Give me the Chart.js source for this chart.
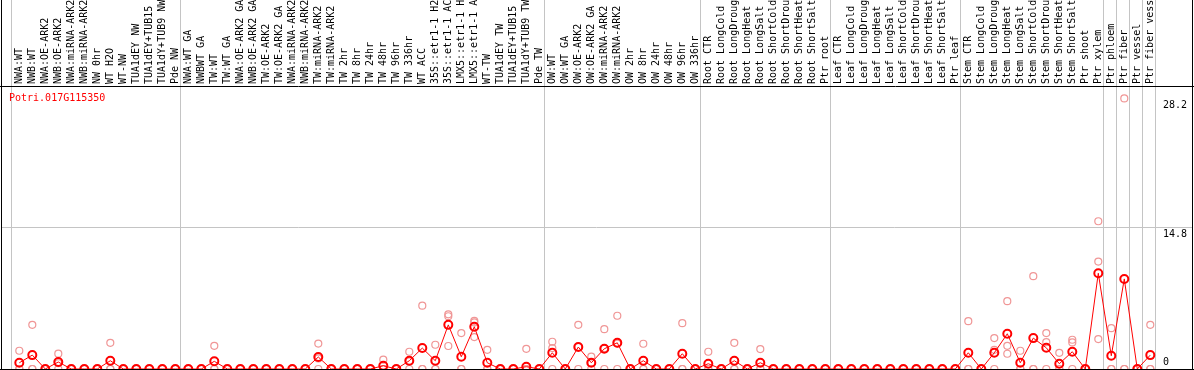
<!DOCTYPE html>
<html><head><meta charset="utf-8">
<script src="https://cdn.jsdelivr.net/npm/chart.js@4.4.1/dist/chart.umd.min.js"></script>
<style>html,body{margin:0;padding:0;background:#fff;overflow:hidden}#wrap{width:1194px;height:370px;position:relative}canvas{display:block}</style>
</head><body><div id="wrap"><canvas id="c" width="1194" height="370"></canvas></div>
<script>
const title = 'Potri.017G115350';
const categories = [
  'NWA:WT','NWB:WT','NWA:OE-ARK2','NWB:OE-ARK2','NWA:miRNA-ARK2','NWB:miRNA-ARK2','NW 0hr','WT H2O','WT-NW','TUA1dEY NW','TUA1dEY+TUB15','TUA1dY+TUB9 NW','Pde NW',
  'NWA:WT GA','NWBWT GA','TW:WT','TW:WT GA','NWA:OE-ARK2 GA','NWB:OE-ARK2 GA','TW:OE-ARK2','TW:OE-ARK2 GA','NWA:miRNA-ARK2','NWB:miRNA-ARK2','TW:miRNA-ARK2','TW:miRNA-ARK2','TW 2hr','TW 8hr','TW 24hr','TW 48hr','TW 96hr','TW 336hr','WT ACC','35S::etr1-1 H2','35S::etr1-1 AC','LMX5::etr1-1 H','LMX5::etr1-1 A','WT-TW','TUA1dEY TW','TUA1dEY+TUB15','TUA1dY+TUB9 TW','Pde TW',
  'OW:WT','OW:WT GA','OW:OE-ARK2','OW:OE-ARK2 GA','OW:miRNA-ARK2','OW:miRNA-ARK2','OW 2hr','OW 8hr','OW 24hr','OW 48hr','OW 96hr','OW 336hr',
  'Root CTR','Root LongCold','Root LongDroug','Root LongHeat','Root LongSalt','Root ShortCold','Root ShortDrou','Root ShortHeat','Root ShortSalt','Ptr root',
  'Leaf CTR','Leaf LongCold','Leaf LongDroug','Leaf LongHeat','Leaf LongSalt','Leaf ShortCold','Leaf ShortDrou','Leaf ShortHeat','Leaf ShortSalt','Ptr leaf',
  'Stem CTR','Stem LongCold','Stem LongDroug','Stem LongHeat','Stem LongSalt','Stem ShortCold','Stem ShortDrou','Stem ShortHeat','Stem ShortSalt','Ptr shoot','Ptr xylem',
  'Ptr phloem','Ptr fiber','Ptr vessel','Ptr fiber vess'
];
const groupSizes = [13,28,12,10,10,11,1,1,1,1];
const means = [
  0.65,1.45,0,0.73,0,0,0,0.86,0,0,0,0,0,
  0,0,0.8,0,0,0,0,0,0,0,1.25,0,0,0,0,0.34,0,0.86,2.18,0.86,4.6,1.28,4.4,0.65,0,0,0.24,0,
  1.69,0,2.29,0.65,2.11,2.73,0,0.86,0,0,1.59,0,
  0.55,0,0.86,0,0.65,0,0,0,0,0,
  0,0,0,0,0,0,0,0,0,0,
  1.69,0,1.69,3.67,0.65,3.22,2.21,0.55,1.8,0,9.98,
  1.38,9.39,0,1.45
];
const rep1 = [
  1.9,4.6,0,1.6,0,0,0,2.73,0,0,0,0,0,
  0,0,2.42,0,0,0,0,0,0,0,2.65,0,0,0,0,0.97,0,1.8,6.6,2.53,5.7,3.74,5.02,2.0,0,0,2.1,0,
  2.84,0,4.6,1.3,4.15,5.55,0,2.63,0,0,4.78,0,
  1.8,0,2.73,0,2.08,0,0,0,0,0,
  0,0,0,0,0,0,0,0,0,0,
  4.99,0,3.22,7.07,1.9,9.68,3.74,1.69,3.05,0,15.4,
  4.26,28.2,0,4.6
];
const rep2 = [
  0,0,0,0.6,0,0,0,0,0,0,0,0,0,
  0,0,0,0,0,0,0,0,0,0,1.1,0,0,0,0,0,0,0.78,0,0,5.5,0,4.85,0,0,0,0,0,
  2.18,0,2.3,0.65,2.15,2.65,0,0,0,0,0,0,
  0,0,0,0,0,0,0,0,0,0,
  0,0,0,0,0,0,0,0,0,0,
  0,0,2.0,2.42,0,0,2.8,0,2.77,0,11.2,
  0,0,0,0
];
const rep3 = [
  0,0,0,0,0,0,0,0,0,0,0,0,0,
  0,0,0,0,0,0,0,0,0,0,0,0,0,0,0,0,0,0,0,0,2.4,0,3.33,0,0,0,0,0,
  0,0,0,0,0,0,0,0,0,0,0,0,
  0,0,0,0,0,0,0,0,0,0,
  0,0,0,0,0,0,0,0,0,0,
  0,0,0,1.59,0,0,0,0,0,0,3.12,
  0,0,0,0
];
const yTicks = [0, 14.8, 28.2];

const FONT = '10px "DejaVu Sans Mono", "Liberation Mono", monospace';
const GRAY = '#c4c4c4';
const pts = arr => arr.map((v, i) => ({x: i, y: v}));

const deco = {
  id: 'deco',
  beforeDatasetsDraw(chart) {
    const {ctx, chartArea: a, scales: {x}} = chart;
    ctx.save();
    ctx.strokeStyle = GRAY; ctx.lineWidth = 1;
    const bounds = [x.getPixelForValue(0) - 8.6];
    let idx = 0;
    for (const g of groupSizes) { idx += g; bounds.push(x.getPixelForValue(idx - 1) + 5); }
    for (const px of bounds) {
      const xx = Math.round(px) + 0.5;
      ctx.beginPath(); ctx.moveTo(xx, 0); ctx.lineTo(xx, a.bottom); ctx.stroke();
    }
    ctx.restore();
  },
  afterDatasetsDraw(chart) {
    const {ctx, chartArea: a, scales: {x, y}} = chart;
    ctx.save();
    // frame
    ctx.strokeStyle = '#000'; ctx.lineWidth = 1;
    ctx.beginPath();
    ctx.moveTo(0, a.top + 0.5); ctx.lineTo(chart.width, a.top + 0.5);
    ctx.moveTo(0, a.bottom + 0.5); ctx.lineTo(chart.width, a.bottom + 0.5);
    ctx.moveTo(a.left + 0.5, 0); ctx.lineTo(a.left + 0.5, a.bottom);
    ctx.moveTo(a.right + 0.5, 0); ctx.lineTo(a.right + 0.5, a.bottom);
    ctx.stroke();
    // category labels
    ctx.font = FONT; ctx.fillStyle = '#000';
    ctx.textAlign = 'left'; ctx.textBaseline = 'middle';
    categories.forEach((lab, i) => {
      ctx.save();
      ctx.translate(Math.round(x.getPixelForValue(i)) + 0.5, a.top - 2);
      ctx.rotate(-Math.PI / 2);
      ctx.fillText(lab, 0, 0);
      ctx.restore();
    });
    // title
    ctx.fillStyle = '#ff0000'; ctx.textBaseline = 'alphabetic';
    ctx.fillText(title, 9, a.top + 15);
    // y tick labels
    ctx.fillStyle = '#000';
    yTicks.forEach(v => {
      const py = y.getPixelForValue(v);
      const by = v === 0 ? py - 4 : py + 10;
      ctx.fillText(String(v), 1163, by);
    });
    ctx.restore();
  }
};

new Chart(document.getElementById('c'), {
  type: 'scatter',
  data: {
    datasets: [
      {data: pts(means), showLine: true, borderColor: '#ff0000', borderWidth: 1, pointRadius: 4, pointBorderWidth: 2,
       pointBorderColor: '#ff0000', pointBackgroundColor: 'rgba(0,0,0,0)', backgroundColor: 'rgba(0,0,0,0)', order: 0, clip: false},
      {data: pts(rep1), showLine: false, pointRadius: 3.5, pointBorderWidth: 1.2, pointBorderColor: '#f09696', pointBackgroundColor: 'rgba(0,0,0,0)', order: 1, clip: false},
      {data: pts(rep2), showLine: false, pointRadius: 3.5, pointBorderWidth: 1.2, pointBorderColor: '#f09696', pointBackgroundColor: 'rgba(0,0,0,0)', order: 1, clip: false},
      {data: pts(rep3), showLine: false, pointRadius: 3.5, pointBorderWidth: 1.2, pointBorderColor: '#f09696', pointBackgroundColor: 'rgba(0,0,0,0)', order: 1, clip: false}
    ]
  },
  options: {
    responsive: false, animation: false, devicePixelRatio: 1,
    layout: {autoPadding: false, padding: {left: 1, right: 2, top: 86, bottom: 1}},
    plugins: {legend: {display: false}, tooltip: {enabled: false}},
    scales: {
      x: {type: 'linear', min: -1.408, max: 90.208, display: false},
      y: {type: 'linear', min: 0, max: 29.5, position: 'right',
          afterBuildTicks: s => { s.ticks = yTicks.map(v => ({value: v})); },
          afterFit: s => { s.width = 0; },
          ticks: {display: false}, border: {display: false},
          grid: {drawTicks: false, lineWidth: 1,
                 color: c => (c.tick && c.tick.value === yTicks[1]) ? GRAY : 'rgba(0,0,0,0)'}}
    }
  },
  plugins: [deco]
});
</script></body></html>
